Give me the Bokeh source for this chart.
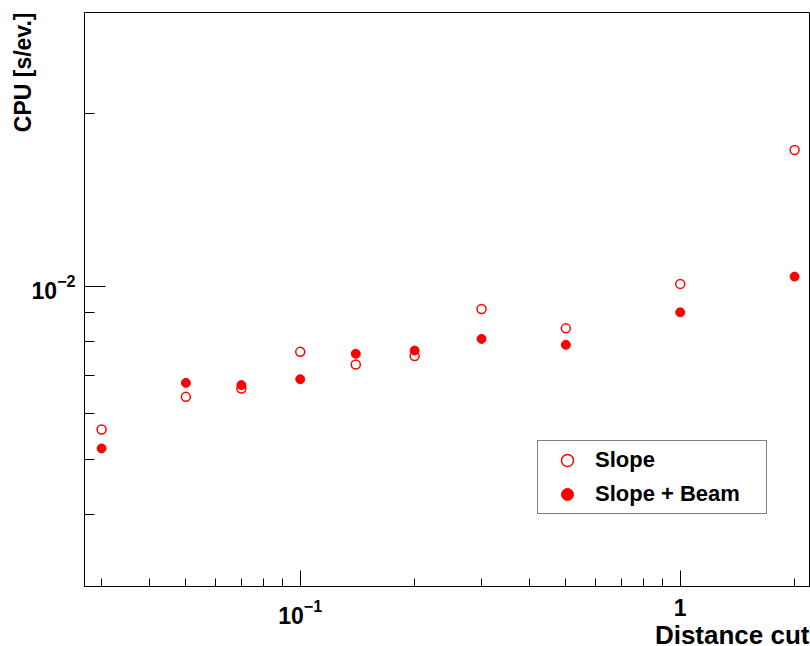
import numpy as np
from bokeh.plotting import figure
from bokeh.models import Range1d, FixedTicker, Legend, LegendItem, Title
from bokeh.embed import file_html
from bokeh.resources import INLINE

# ---- data ----
distance_cut = [0.03, 0.05, 0.07, 0.1, 0.14, 0.2, 0.3, 0.5, 1.0, 2.0]
cpu_slope = [0.00563, 0.00642, 0.00664, 0.00769, 0.00731, 0.00756, 0.00913, 0.00845, 0.0101, 0.01728]
cpu_slope_beam = [0.00522, 0.00679, 0.00673, 0.00689, 0.00763, 0.00773, 0.0081, 0.00791, 0.00901, 0.0104]

series_names = ["Slope", "Slope + Beam"]
x_title = "Distance cut"
y_title = "CPU [s/ev.]"

x_major_ticks = [0.1, 1]
x_minor_ticks = [0.03, 0.04, 0.05, 0.06, 0.07, 0.08, 0.09,
                 0.2, 0.3, 0.4, 0.5, 0.6, 0.7, 0.8, 0.9, 2.0]
x_tick_overrides = {1: "1"}
y_major_ticks = [0.01]
y_minor_ticks = [0.004, 0.005, 0.006, 0.007, 0.008, 0.009, 0.02]

FONT = "Liberation Sans"
RED = "#ff0000"
X_START, X_END = 0.02705, 2.189
Y_START, Y_END = 0.003, 0.03

p = figure(width=810, height=646, x_axis_type="log", y_axis_type="log",
           x_range=Range1d(X_START, X_END), y_range=Range1d(Y_START, Y_END),
           output_backend="svg", toolbar_location=None,
           min_border_left=84, min_border_right=1, min_border_top=12, min_border_bottom=60)

p.background_fill_color = "white"
p.border_fill_color = "white"
p.outline_line_color = "black"
p.outline_line_width = 1
p.xgrid.visible = False
p.ygrid.visible = False

p.xaxis.ticker = FixedTicker(ticks=x_major_ticks, minor_ticks=x_minor_ticks)
p.yaxis.ticker = FixedTicker(ticks=y_major_ticks, minor_ticks=y_minor_ticks)
p.xaxis.major_label_overrides = x_tick_overrides

for ax in (p.xaxis, p.yaxis):
    ax.axis_line_color = "black"
    ax.axis_line_width = 1
    ax.major_tick_line_color = "black"
    ax.minor_tick_line_color = "black"
    ax.major_tick_out = 0
    ax.minor_tick_out = 0
    ax.major_label_text_font = FONT
    ax.major_label_text_font_style = "bold"
    ax.major_label_text_font_size = "23px"
    ax.major_label_text_color = "black"

p.xaxis.major_tick_in = 16
p.xaxis.minor_tick_in = 8
p.yaxis.major_tick_in = 21
p.yaxis.minor_tick_in = 10
p.xaxis.major_label_standoff = 12
p.yaxis.major_label_standoff = 9


def make_title(text, size, standoff):
    t = Title(text=text, align="right", text_font=FONT, text_font_style="bold",
              text_font_size=size, text_color="black")
    try:
        t.standoff = standoff
    except Exception:
        t.standoff = 0
    return t


# titles: ROOT-style, flush with the right / top end of the axes
p.add_layout(make_title(x_title, "26px", -17), "below")
p.add_layout(make_title(y_title, "23px", -14), "left")

r_open = p.scatter(distance_cut, cpu_slope, marker="circle", size=9,
                   fill_alpha=0, line_color=RED, line_width=1.5)
r_fill = p.scatter(distance_cut, cpu_slope_beam, marker="circle", size=9,
                   fill_color=RED, line_color=RED)

legend = Legend(items=[LegendItem(label=series_names[0], renderers=[r_open]),
                       LegendItem(label=series_names[1], renderers=[r_fill])],
                location=(453, 72), padding=4, spacing=4,
                glyph_width=50, glyph_height=30, label_height=30,
                label_width=167, label_standoff=3, margin=0,
                border_line_color="black", border_line_width=1,
                background_fill_color="white", background_fill_alpha=1,
                label_text_font=FONT, label_text_font_style="bold",
                label_text_font_size="22px", label_text_color="black")
p.add_layout(legend, "center")

open("out.html", "w").write(file_html(p, INLINE))
